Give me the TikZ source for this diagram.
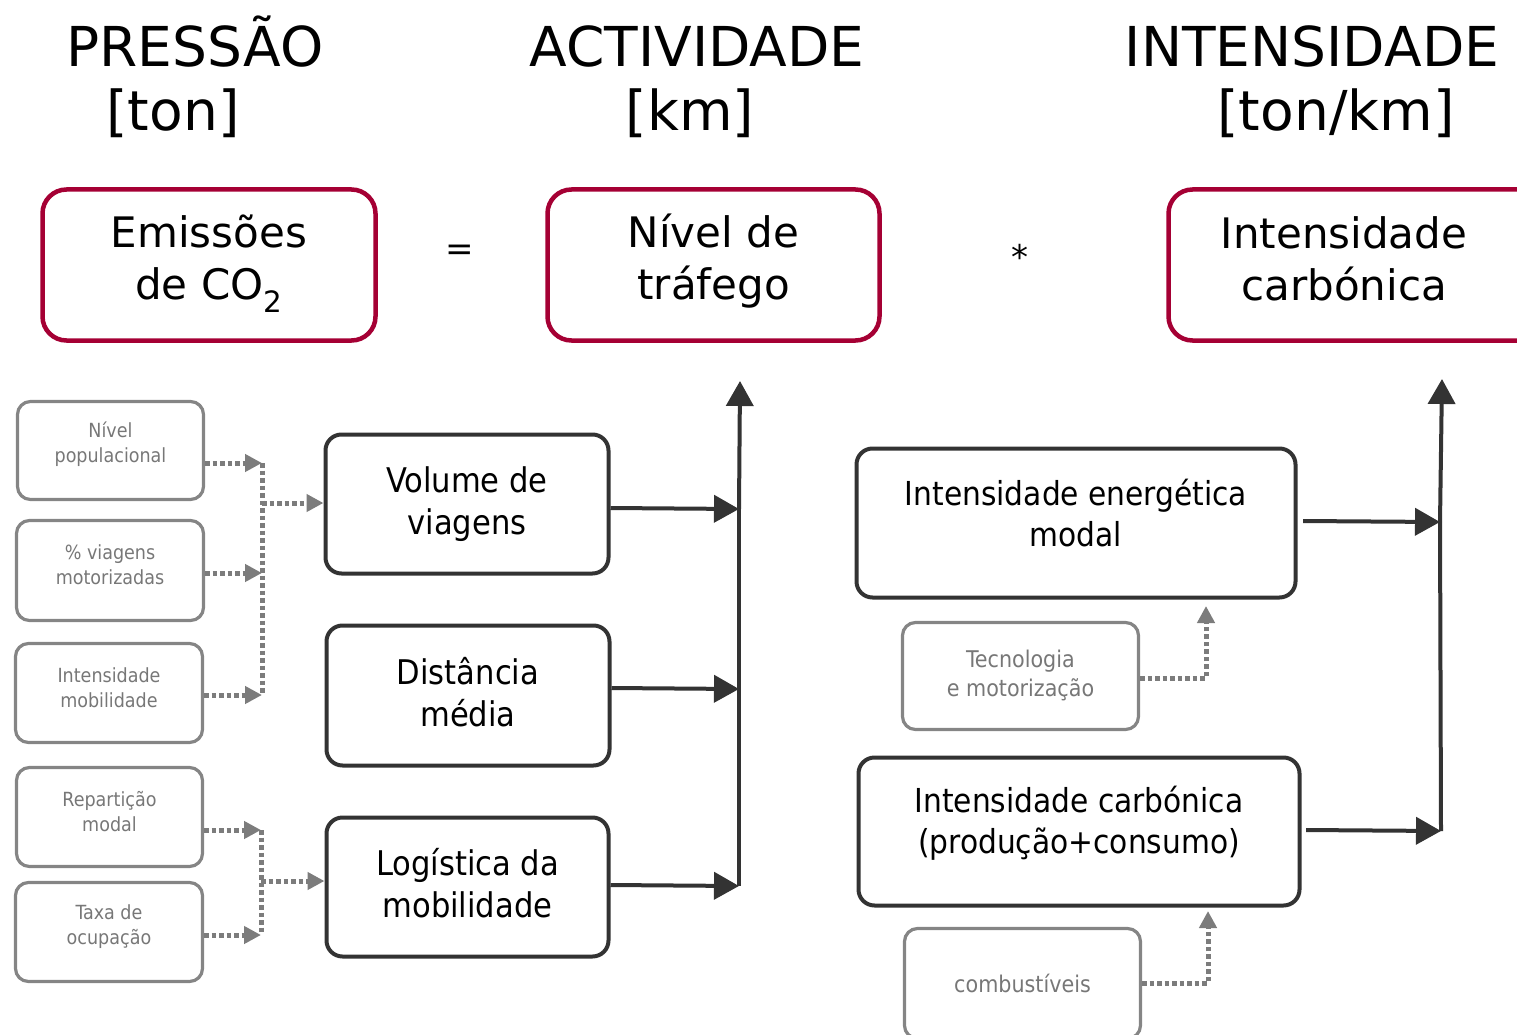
\documentclass[tikz,border=0pt]{standalone}
\usepackage{fontspec}
\setmainfont{DejaVu Sans}
\newfontfamily\condfont{DejaVu Sans Condensed}
\usetikzlibrary{arrows.meta}
\definecolor{boxred}{HTML}{A50034}
\definecolor{dark}{HTML}{333333}
\definecolor{greyline}{HTML}{858585}
\definecolor{dotgrey}{HTML}{7C7C7C}
\definecolor{greytext}{HTML}{777777}
\begin{document}
\begin{tikzpicture}[x=1pt,y=-1pt,
  titletxt/.style={font=\fontsize{55}{65}\selectfont, inner sep=0pt, anchor=base},
  redbox/.style={draw=boxred, line width=4.5pt, rounded corners=24pt, inner sep=0pt},
  redtext/.style={font=\fontsize{42}{52}\selectfont, align=center, inner sep=0pt},
  blackbox/.style={draw=dark, line width=4pt, rounded corners=16pt, inner sep=0pt},
  blacktext/.style={font=\condfont\fontsize{34}{42}\selectfont, align=center, inner sep=0pt},
  blacktextr/.style={font=\condfont\fontsize{33}{41}\selectfont, align=center, inner sep=0pt},
  greybox/.style={draw=greyline, line width=3.2pt, rounded corners=13pt, inner sep=0pt},
  greytxt/.style={font=\condfont\fontsize{19.5}{25}\selectfont, align=center, text=greytext, inner sep=0pt},
  greytxtr/.style={font=\condfont\fontsize{23}{29}\selectfont, align=center, text=greytext, inner sep=0pt},
  dotline/.style={draw=dotgrey, line width=5pt, dash pattern=on 4.5pt off 3pt},
  dotarrow/.style={dotline, -{Triangle[length=17pt,width=17pt]}},
  blackline/.style={draw=dark, line width=4pt},
  blackarrow/.style={blackline, -{Triangle[length=25pt,width=27pt]}},
  opsym/.style={font=\fontsize{34}{40}\selectfont, inner sep=0pt}
]
\clip (0,0) rectangle (1517,1035);

% titles
\node[titletxt] (t1a) at (195,67) {PRESSÃO};
\node[titletxt] (t1b) at (173,131) {[ton]};
\node[titletxt] (t2a) at (697,67) {ACTIVIDADE};
\node[titletxt] (t2b) at (690,131) {[km]};
\node[titletxt] (t3a) at (1312,67) {INTENSIDADE};
\node[titletxt] (t3b) at (1336,131) {[ton/km]};

% red boxes
\node[redbox, minimum width=333pt, minimum height=151pt] (emi) at (209,265) {};
\node[redtext] (emit) at (209,264) {Emissões\\de CO\textsubscript{2}};
\node[redbox, minimum width=332pt, minimum height=151pt] (niv) at (713.5,265) {};
\node[redtext] (nivt) at (713.5,261) {Nível de\\tráfego};
\node[redbox, minimum width=375pt, minimum height=151pt] (inc) at (1356,265) {};
\node[redtext] (inct) at (1344,259) {Intensidade\\carbónica};
\node[opsym] (eq) at (460,253) {=};
\node[opsym] (mul) at (1020,257) {*};

% grey boxes left
\node[greybox, minimum width=186pt, minimum height=98pt] (g1) at (110.5,450.5) {};
\node[greytxt] (g1t) at (110.5,444) {Nível\\populacional};
\node[greybox, minimum width=187pt, minimum height=100pt] (g2) at (110,570.5) {};
\node[greytxt] (g2t) at (110,564.5) {\% viagens\\motorizadas};
\node[greybox, minimum width=187pt, minimum height=99pt] (g3) at (109,693) {};
\node[greytxt] (g3t) at (109,687.5) {Intensidade\\mobilidade};
\node[greybox, minimum width=186pt, minimum height=99pt] (g4) at (109.5,817) {};
\node[greytxt] (g4t) at (109.5,811.5) {Repartição\\modal};
\node[greybox, minimum width=187pt, minimum height=99pt] (g5) at (109,932) {};
\node[greytxt] (g5t) at (109,926.5) {Taxa de\\ocupação};

% black boxes left
\node[blackbox, minimum width=283pt, minimum height=139pt] (vol) at (467,504) {};
\node[blacktext] (volt) at (467,504) {Volume de\\viagens};
\node[blackbox, minimum width=283pt, minimum height=140pt] (dis) at (468,695.5) {};
\node[blacktext] (dist) at (468,692) {Distância\\média};
\node[blackbox, minimum width=282pt, minimum height=139pt] (log) at (467.5,887) {};
\node[blacktext] (logt) at (467.5,883.5) {Logística da\\mobilidade};

% black boxes right
\node[blackbox, minimum width=439pt, minimum height=149pt] (ie) at (1076,523) {};
\node[blacktextr] (iet) at (1076,513) {Intensidade energética\\modal};
\node[blackbox, minimum width=441pt, minimum height=148pt] (ic) at (1079,831.5) {};
\node[blacktextr] (ict) at (1079,823) {Intensidade carbónica\\(produção+consumo)};

% grey boxes right
\node[greybox, minimum width=236pt, minimum height=107pt] (tec) at (1020.5,676) {};
\node[greytxtr] (tect) at (1020.5,675) {Tecnologia\\e motorização};
\node[greybox, minimum width=236pt, minimum height=110pt] (comb) at (1022.5,983.5) {};
\node[greytxtr] (combt) at (1022.5,983) {combustíveis};

% dotted connectors, first group
\coordinate (a1) at (262,463);
\coordinate (a2) at (262,573);
\coordinate (a3) at (262,695);
\coordinate (a4) at (262,503);
\draw[dotarrow] (g1.east |- a1) -- (a1);
\draw[dotarrow] (g2.east |- a2) -- (a2);
\draw[dotarrow] (g3.east |- a3) -- (a3);
\draw[dotline] (a1) -- (a3);
\draw[dotarrow] (a4) -- (vol.west |- a4);

% dotted connectors, second group
\coordinate (b1) at (261,830);
\coordinate (b2) at (261,935);
\coordinate (b3) at (261,881);
\draw[dotarrow] (g4.east |- b1) -- (b1);
\draw[dotarrow] (g5.east |- b2) -- (b2);
\draw[dotline] (b1) -- (b2);
\draw[dotarrow] (b3) -- (log.west |- b3);

% dotted connectors right
\coordinate (c1) at (1206,606);
\coordinate (c2) at (1208,911);
\draw[dotarrow] (tec.east |- 0,678) -| (c1);
\draw[dotarrow] (comb.east |- 0,983) -| (c2);

% black arrows left
\coordinate (v1) at (739,509);
\coordinate (v2) at (739,689);
\coordinate (v3) at (739,886);
\coordinate (vtop) at (740,381);
\draw[blackarrow] (vol.east |- 0,508) -- (v1);
\draw[blackarrow] (dis.east |- 0,688) -- (v2);
\draw[blackarrow] (log.east |- 0,885) -- (v3);
\draw[blackline] (v3) -- (v1);
\draw[blackarrow] (v1) -- (vtop);

% black arrows right
\coordinate (r0a) at (1303,521);
\coordinate (r0b) at (1306,830);
\coordinate (r1) at (1440,522);
\coordinate (r2) at (1441,831);
\coordinate (rtop) at (1442,379);
\draw[blackarrow] (r0a) -- (r1);
\draw[blackarrow] (r0b) -- (r2);
\draw[blackline] (r2) -- (r1);
\draw[blackarrow] (r1) -- (rtop);
\end{tikzpicture}
\end{document}
